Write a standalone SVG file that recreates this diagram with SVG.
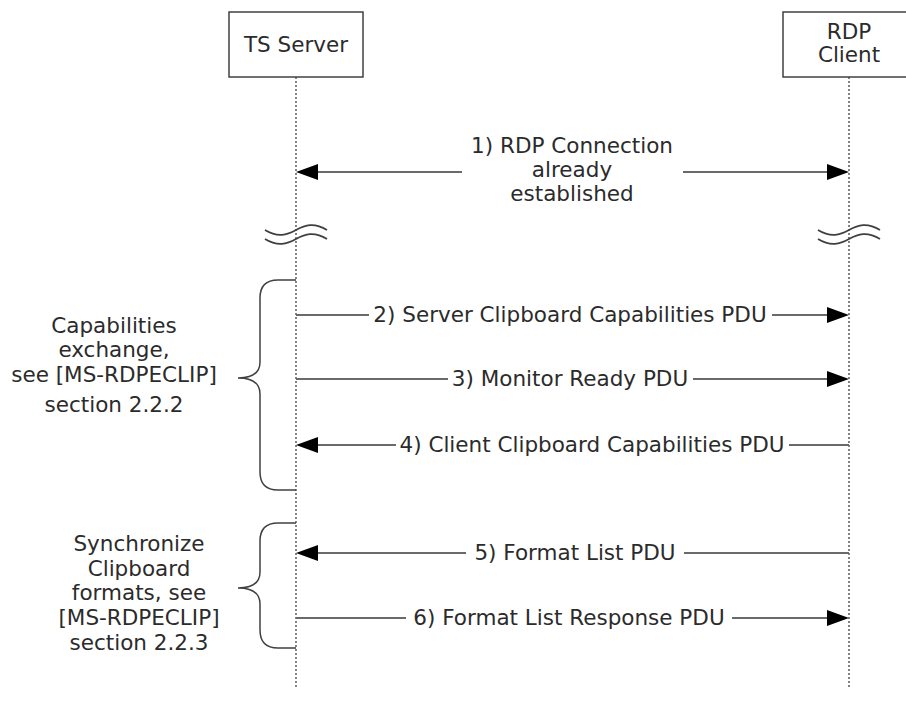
<svg xmlns="http://www.w3.org/2000/svg" width="906" height="715" viewBox="0 0 906 715">
<style>
text{font-family:"DejaVu Sans","Verdana",sans-serif;font-size:21.5px;fill:#2b2b2b;text-anchor:middle}
.box{fill:#fff;stroke:#404040;stroke-width:1.5}
.life{stroke:#333;stroke-width:1.2;stroke-dasharray:2 2;fill:none}
.msg{stroke:#6a6a6a;stroke-width:2;fill:none}
.brk{stroke:#404040;stroke-width:1.8;fill:none}
.brace{stroke:#404040;stroke-width:1.5;fill:none}
.head{fill:#000}
</style>
<rect width="906" height="715" fill="#fff"/>
<g id="lifelines">
<line class="life" x1="296" y1="77" x2="296" y2="688"/>
<line class="life" x1="849" y1="77" x2="849" y2="688"/>
</g>
<g id="ts-server">
<rect class="box" x="229" y="12" width="134" height="65"/>
<text x="296" y="52">TS Server</text>
</g>
<g id="rdp-client">
<rect class="box" x="783" y="12" width="132" height="65"/>
<text x="849" y="39">RDP</text>
<text x="849" y="62">Client</text>
</g>
<g id="breaks">
<path class="brk" d="M265,230 C278,238 287,235 296,230 S314,222 327,230"/>
<path class="brk" d="M265,239 C278,247 287,244 296,239 S314,231 327,239"/>
<path class="brk" d="M818,230 C831,238 840,235 849,230 S867,222 880,230"/>
<path class="brk" d="M818,239 C831,247 840,244 849,239 S867,231 880,239"/>
</g>
<g id="connectors">
<line class="msg" x1="312" y1="172" x2="462" y2="172"/>
<line class="msg" x1="683" y1="172" x2="832" y2="172"/>
<polygon class="head" points="296,172 318,164 318,180"/>
<polygon class="head" points="849,172 827,164 827,180"/>
<line class="msg" x1="296" y1="315" x2="369" y2="315"/>
<line class="msg" x1="772" y1="315" x2="832" y2="315"/>
<polygon class="head" points="849,315 827,307 827,323"/>
<line class="msg" x1="296" y1="379" x2="448" y2="379"/>
<line class="msg" x1="693" y1="379" x2="832" y2="379"/>
<polygon class="head" points="849,379 827,371 827,387"/>
<line class="msg" x1="312" y1="445" x2="396" y2="445"/>
<line class="msg" x1="789" y1="445" x2="849" y2="445"/>
<polygon class="head" points="296,445 318,437 318,453"/>
<line class="msg" x1="312" y1="553" x2="466" y2="553"/>
<line class="msg" x1="684" y1="553" x2="849" y2="553"/>
<polygon class="head" points="296,553 318,545 318,561"/>
<line class="msg" x1="296" y1="618" x2="406" y2="618"/>
<line class="msg" x1="732" y1="618" x2="832" y2="618"/>
<polygon class="head" points="849,618 827,610 827,626"/>
</g>
<g id="labels">
<text x="572" y="153">1) RDP Connection</text>
<text x="572" y="177">already</text>
<text x="572" y="201">established</text>
<text x="570" y="322">2) Server Clipboard Capabilities PDU</text>
<text x="570" y="386">3) Monitor Ready PDU</text>
<text x="592" y="452">4) Client Clipboard Capabilities PDU</text>
<text x="575" y="560">5) Format List PDU</text>
<text x="569" y="625">6) Format List Response PDU</text>
</g>
<g id="brace-capabilities">
<path class="brace" d="M296,280 H278 Q260,280 260,298 V362 Q260,378 238,378 Q260,378 260,394 V472 Q260,490 278,490 H296"/>
<text x="114" y="333">Capabilities</text>
<text x="114" y="357">exchange,</text>
<text x="114" y="382">see [MS-RDPECLIP]</text>
<text x="114" y="412">section 2.2.2</text>
</g>
<g id="brace-synchronize">
<path class="brace" d="M296,523 H278 Q260,523 260,541 V572 Q260,588 238,588 Q260,588 260,604 V630 Q260,648 278,648 H296"/>
<text x="139" y="551">Synchronize</text>
<text x="139" y="576">Clipboard</text>
<text x="139" y="600">formats, see</text>
<text x="139" y="625">[MS-RDPECLIP]</text>
<text x="139" y="650">section 2.2.3</text>
</g>
</svg>
